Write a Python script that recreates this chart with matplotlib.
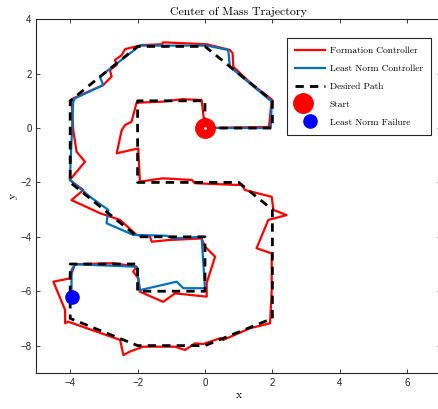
import numpy as np
import matplotlib
matplotlib.use("Agg")
import matplotlib.pyplot as plt
from matplotlib.legend_handler import HandlerTuple

# Formation controller trajectory (red)
form_x = [0.00, 1.90, 1.98, 1.42, 0.84, 0.82, 0.74, 0.05, -1.24, -1.28, -1.88, -2.37,
          -2.47, -2.67, -2.62, -2.82, -2.77, -3.02, -3.91, -3.96, -3.91, -3.81, -3.56,
          -4.01, -3.61, -3.96, -3.12, -2.52, -2.03, -1.63, -1.58, -1.09, -0.10, 0.00,
          0.30, 0.05, 0.05, -0.89, -1.24, -1.93, -1.98, -2.13, -2.03, -2.72, -3.86,
          -4.01, -4.50, -4.15, -4.15, -4.06, -2.52, -2.42, -2.23, -1.83, -0.89, -0.59,
          -0.30, -0.05, 0.45, 0.54, 1.34, 1.93, 1.98, 1.98, 1.53, 1.88, 2.42, 2.03,
          1.98, 1.19, 1.09, -0.30, -0.39, -1.24, -1.93, -1.98, -2.62, -2.47, -2.37,
          -2.18, -2.03, -1.24, -0.69, -0.10, -0.03, 0.00]
form_y = [0.00, 0.04, 1.05, 1.58, 2.25, 2.75, 2.87, 3.08, 3.15, 3.08, 3.05, 2.90,
          2.68, 2.50, 2.32, 2.13, 1.89, 1.58, 1.09, 1.03, -0.07, -0.87, -1.24,
          -1.91, -2.28, -2.65, -3.13, -3.38, -3.93, -4.00, -4.18, -4.12, -4.06, -4.36,
          -4.73, -5.70, -6.20, -6.08, -6.39, -6.02, -5.53, -5.28, -5.10, -4.97, -5.01,
          -5.53, -5.65, -6.69, -7.18, -7.12, -7.79, -8.35, -8.22, -8.04, -8.04, -8.16,
          -7.92, -7.94, -7.73, -7.79, -7.36, -7.18, -5.96, -4.61, -4.42, -3.38, -3.20, -3.01,
          -2.53, -2.28, -2.10, -2.03, -1.91, -1.85, -1.97, -0.75, -0.93, -0.07, 0.11,
          0.23, 0.93, 0.97, 1.06, 1.03, 0.29, 0.00]

# Least norm controller trajectory (blue)
lnorm_x = [0.00, 1.95, 1.98, 0.74, 0.69, 0.05, -1.93, -3.12, -3.02, -3.86, -3.91,
           -4.01, -3.41, -2.87, -2.92, -2.13, -1.14, -0.94, -0.10, 0.00, -0.64, -0.84,
           -1.93, -2.03, -3.86, -3.96, -3.96]
lnorm_y = [0.00, 0.00, 0.97, 2.25, 2.87, 3.03, 3.03, 1.89, 1.58, 1.09, 0.97,
           -1.91, -2.53, -3.01, -3.50, -3.93, -3.96, -4.06, -4.00, -5.89, -5.89, -5.65,
           -5.96, -5.10, -5.01, -5.22, -6.20]

# Desired path (black dashed)
path_x = [0, 2, 2, 0, -2, -4, -4, -2, 0, 0, -2, -2, -4, -4, -2, 0, 2, 2, 1, -2, -2, 0, 0]
path_y = [0, 0, 1, 3, 3, 1, -2, -4, -4, -6, -6, -5, -5, -7, -8, -8, -7, -3, -2, -2, 1, 1, 0]

start = (0.0, 0.0)
failure = (-3.96, -6.2)

serif = "cmr10"

fig = plt.figure(figsize=(4.38, 4.09), dpi=100)
ax = fig.add_axes([0.0833, 0.0885, 0.9233, 0.8645])

h_form, = ax.plot(form_x, form_y, color="red", lw=1.6, label="Formation Controller")
h_ln, = ax.plot(lnorm_x, lnorm_y, color="#0072BD", lw=1.6, label="Least Norm Controller")
h_path, = ax.plot(path_x, path_y, color="black", lw=2.0, ls=(0, (3, 2.2)), label="Desired Path")
h_start, = ax.plot(*start, "o", color="red", ms=14)
h_dot, = ax.plot(*start, ".", color="white", ms=2)
h_fail, = ax.plot(*failure, "o", color="blue", ms=9.5)

ax.set_xlim(-5, 7)
ax.set_ylim(-9, 4)
ax.set_xticks([-4, -2, 0, 2, 4, 6])
ax.set_yticks([-8, -6, -4, -2, 0, 2, 4])
ax.tick_params(direction="in", top=True, right=True, length=3, width=0.6,
               labelsize=7, colors="#262626")
for lbl in ax.get_xticklabels() + ax.get_yticklabels():
    lbl.set_family("Liberation Sans")
for sp in ax.spines.values():
    sp.set_color("#262626")
    sp.set_linewidth(0.8)

ax.set_title("Center of Mass Trajectory", family=serif, size=8.5, pad=3)
ax.set_xlabel("x", family=serif, size=8.5, labelpad=2)
ax.set_ylabel("y", family=serif, size=8.5, labelpad=2)

leg = ax.legend([h_form, h_ln, h_path, (h_start, h_dot), h_fail],
                ["Formation Controller", "Least Norm Controller", "Desired Path",
                 "Start", "Least Norm Failure"],
                handler_map={tuple: HandlerTuple(ndivide=None, pad=0)},
                loc="upper left", bbox_to_anchor=(0.619, 0.947),
                prop={"family": serif, "size": 6.8}, fancybox=False,
                edgecolor="#262626", framealpha=1, handlelength=3.1,
                borderpad=0.9, labelspacing=0.98, handletextpad=0.55,
                borderaxespad=0)
leg.get_frame().set_linewidth(0.8)

fig.savefig("out.png", dpi=100)
